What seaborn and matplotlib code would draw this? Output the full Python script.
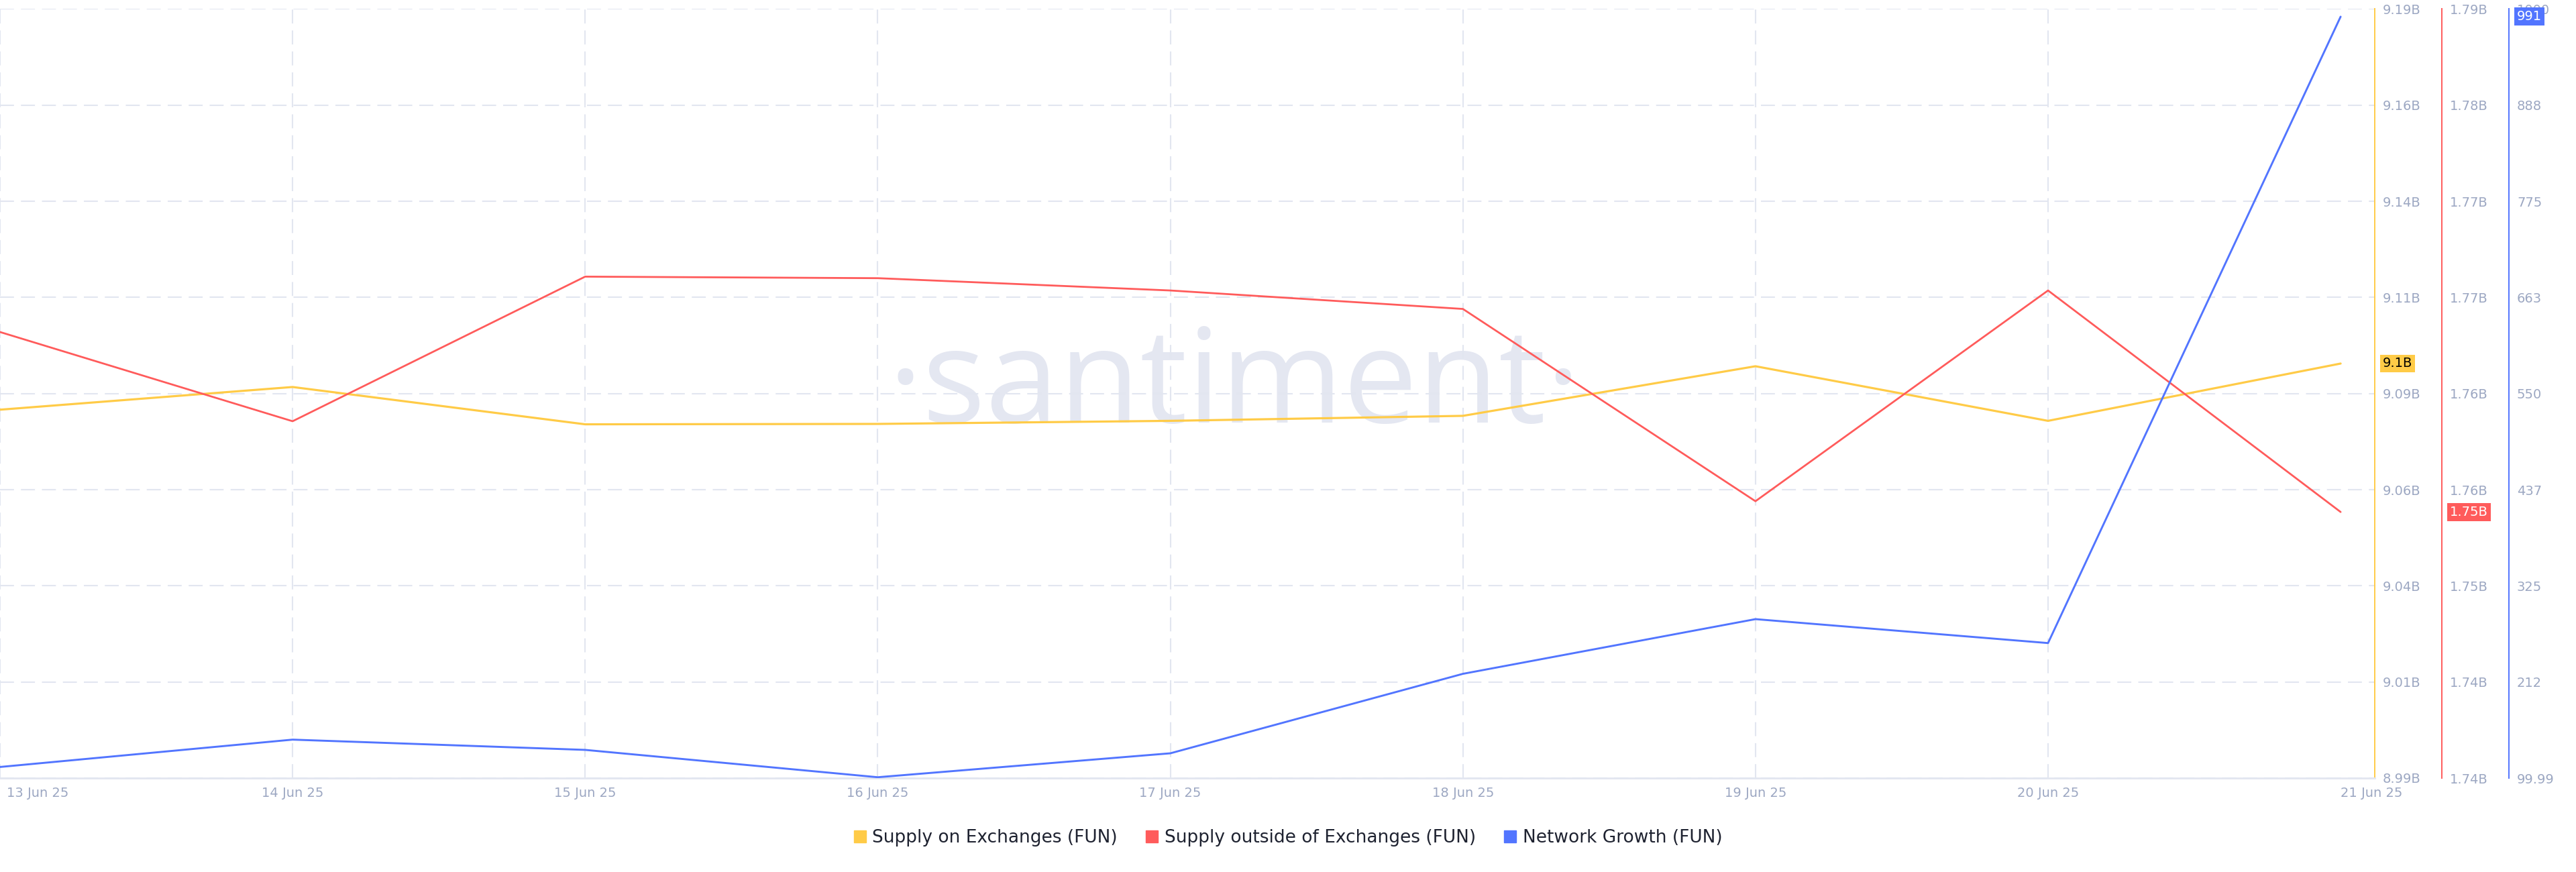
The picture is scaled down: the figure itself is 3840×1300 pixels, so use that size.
import numpy as np
import pandas as pd
import matplotlib
matplotlib.use('Agg')
import matplotlib.pyplot as plt
import matplotlib.transforms as mtransforms
from matplotlib.lines import Line2D
import seaborn as sns

# dados (13-21 jun 2025)
dates = pd.date_range('2025-06-13', periods=9, freq='D')
supply_on_exchanges = [9.0833e9, 9.0892e9, 9.0795e9, 9.0796e9, 9.0804e9, 9.0817e9, 9.0946e9, 9.0804e9, 9.0953e9]
supply_outside = [1.7662e9, 1.7604e9, 1.7698e9, 1.7697e9, 1.7689e9, 1.7677e9, 1.7552e9, 1.7689e9, 1.7545e9]
network_growth = [113, 145, 133, 101, 129, 222, 286, 258, 991]

series_names = ['Supply on Exchanges (FUN)', 'Supply outside of Exchanges (FUN)', 'Network Growth (FUN)']
colors = ['#FFCB47', '#FF5B5B', '#5275FF']

yellow_lim = (8.9875e9, 9.1875e9)
red_lim = (1.7372e9, 1.7872e9)
blue_lim = (99.99, 1000)
yellow_ticks = ['8.99B', '9.01B', '9.04B', '9.06B', '9.09B', '9.11B', '9.14B', '9.16B', '9.19B']
red_ticks = ['1.74B', '1.74B', '1.75B', '1.76B', '1.76B', '1.77B', '1.77B', '1.78B', '1.79B']
blue_ticks = ['99.99', '212', '325', '437', '550', '663', '775', '888', '1000']

tick_color = '#9ca7c2'
grid_color = '#e2e6f0'

sns.set_style('white')
plt.rcParams['font.family'] = ['DejaVu Sans']

W, H = 3840, 1300
fig = plt.figure(figsize=(W / 100, H / 100), dpi=100)
plot_right = 3540
top_px, bottom_px = 13.4, 1160
ax = fig.add_axes([0, 1 - bottom_px / H, plot_right / W, (bottom_px - top_px) / H])

sns.lineplot(x=dates, y=supply_on_exchanges, ax=ax, color=colors[0], linewidth=2.3)
ax2 = ax.twinx()
sns.lineplot(x=dates, y=supply_outside, ax=ax2, color=colors[1], linewidth=2.0)
ax3 = ax.twinx()
sns.lineplot(x=dates, y=network_growth, ax=ax3, color=colors[2], linewidth=2.1)

# eixos y
axes = [ax, ax2, ax3]
lims = [yellow_lim, red_lim, blue_lim]
labels = [yellow_ticks, red_ticks, blue_ticks]
for i, (a, lim, lab) in enumerate(zip(axes, lims, labels)):
    a.set_ylim(*lim)
    a.set_yticks(np.linspace(lim[0], lim[1], 9))
    a.set_yticklabels(lab)
    a.yaxis.tick_right()
    a.tick_params(axis='y', length=0, pad=8.6, labelsize=14, labelcolor=tick_color)
    a.set_ylabel('')
    a.set_xlabel('')
    for s in ['top', 'left']:
        a.spines[s].set_visible(False)
    a.spines['right'].set_color(colors[i])
    a.spines['right'].set_linewidth(1.4)
    a.spines['right'].set_position(('axes', 1 + i * 100 / plot_right))
    if i > 0:
        a.spines['bottom'].set_visible(False)

ax.spines['bottom'].set_color(grid_color)
ax.spines['bottom'].set_linewidth(2.0)

# eixo x
ax.set_xlim(dates[0], dates[-1] + pd.Timedelta(hours=2.8))
ax.set_xticks(dates)
ax.set_xticklabels([d.strftime('%d %b %y') for d in dates])
ax.tick_params(axis='x', length=0, pad=9, labelsize=14, labelcolor=tick_color)
xl = ax.get_xticklabels()
xl[0].set_ha('left')
xl[0].set_transform(xl[0].get_transform() + mtransforms.ScaledTranslation(0.1, 0, fig.dpi_scale_trans))
xl[-1].set_ha('left')

ax.set_axisbelow(True)
ax.grid(True, color=grid_color, linestyle=(0, (10, 5)), linewidth=1.5)
ax.get_xgridlines()[-1].set_visible(False)

# marcadores do ultimo valor
last_labels = [f'{supply_on_exchanges[-1] / 1e9:.1f}B',
               f'{supply_outside[-1] / 1e9:.2f}B',
               f'{network_growth[-1]:.0f}']
last_values = [supply_on_exchanges[-1], supply_outside[-1], network_growth[-1]]
text_colors = ['black', 'white', 'white']
for i, a in enumerate(axes):
    trans = mtransforms.blended_transform_factory(a.transAxes, a.transData)
    a.text(1 + (12 + i * 100) / plot_right, last_values[i], last_labels[i], transform=trans,
           ha='left', va='center', fontsize=14, color=text_colors[i], zorder=10, clip_on=False,
           bbox=dict(boxstyle='square,pad=0.2', fc=colors[i], ec='none'))

# marca d'agua
ax.text(1840 / W, 1 - 630 / H, '\u00b7santiment\u00b7', transform=fig.transFigure,
        ha='center', va='baseline', fontsize=142, color='#e4e7f1',
        family=['Open Sans'], zorder=0.3)

# legenda
handles = [Line2D([], [], marker='s', color=c, linestyle='none', markersize=13) for c in colors]
fig.legend(handles, series_names, loc='center', bbox_to_anchor=(0.5, 1 - 1249 / H), ncol=3,
           frameon=False, fontsize=19, handlelength=0.7, handletextpad=0.35, columnspacing=1.6,
           labelcolor='#1e2230')

fig.savefig('out.png', dpi=100)
